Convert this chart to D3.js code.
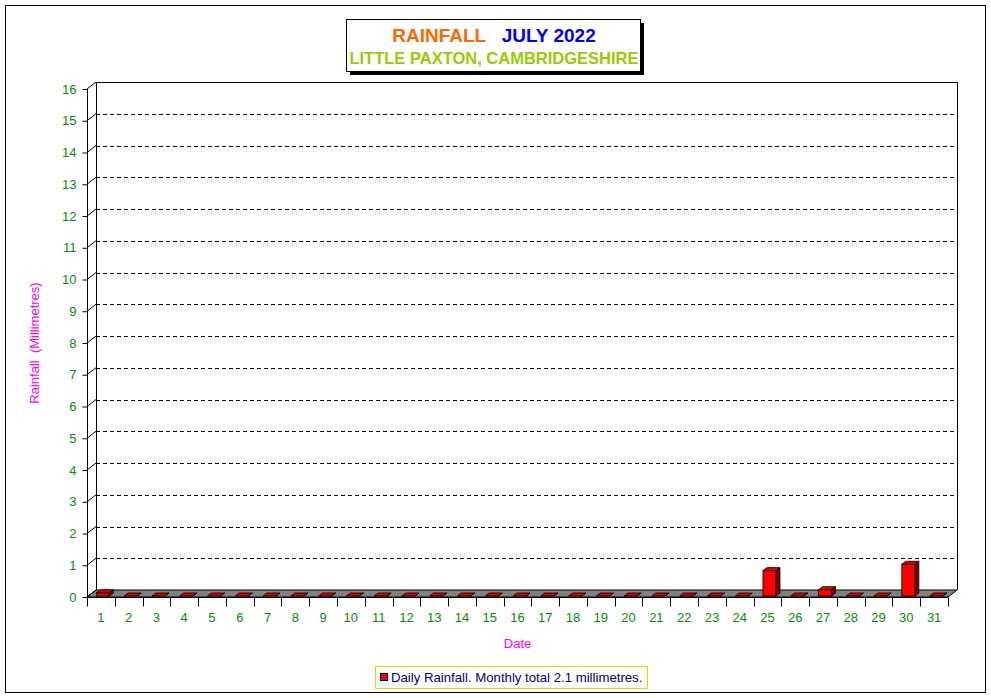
<!DOCTYPE html>
<html><head><meta charset="utf-8">
<script src="https://cdn.jsdelivr.net/npm/d3@7"></script>
<style>body{margin:0;background:#fff}svg{display:block;font-family:"Liberation Sans",Arial,sans-serif}</style>
</head><body><svg id="c" width="991" height="698"></svg>
<script>
const days = d3.range(1, 32).map(String);
const rainfall = [0.1,0,0,0,0,0,0,0,0,0,0,0,0,0,0,0,0,0,0,0,0,0,0,0,0.8,0,0.2,0,0,1.0,0];
const yTicks = d3.range(0, 17);
const titleMain = ["RAINFALL", "JULY 2022"];
const titleSub = "LITTLE PAXTON, CAMBRIDGESHIRE";
const legendText = "Daily Rainfall. Monthly total 2.1 millimetres.";

const svg = d3.select("#c");
svg.append("rect").attr("x",5.5).attr("y",5.5).attr("width",980).attr("height",687).attr("fill","#fff").attr("stroke","#000");

const DX = 9, DY = -7;
const x = d3.scaleBand().domain(days).range([87, 948]).padding(0);
const y = d3.scaleLinear().domain([0, 16]).range([597, 89]);

// floor
const x0 = 87, x1 = 948, y0 = y(0);
svg.append("path").attr("d", `M${x0},${y0}L${x1},${y0}L${x1+DX},${y0+DY}L${x0+DX},${y0+DY}Z`)
  .attr("fill","#808080").attr("stroke","#000");

// back wall lines
const g = svg.append("g");
g.append("line").attr("x1",x0+DX+0.5).attr("x2",x0+DX+0.5).attr("y1",y(16)+DY).attr("y2",y0+DY).attr("stroke","#000");
g.append("line").attr("x1",x1+DX+0.5).attr("x2",x1+DX+0.5).attr("y1",y(16)+DY).attr("y2",y0+DY).attr("stroke","#000");
g.append("line").attr("x1",x0+DX).attr("x2",x1+DX).attr("y1",y(16)+DY+0.5).attr("y2",y(16)+DY+0.5).attr("stroke","#000");
yTicks.filter(t => t > 0 && t < 16).forEach(t => {
  g.append("line").attr("x1",x0+DX).attr("x2",x1+DX).attr("y1",Math.round(y(t)+DY)+0.5).attr("y2",Math.round(y(t)+DY)+0.5)
    .attr("stroke","#000").attr("stroke-dasharray","4,3");
});
// diagonal connectors
yTicks.forEach(t => {
  g.append("line").attr("x1",x0).attr("y1",y(t)).attr("x2",x0+DX).attr("y2",y(t)+DY).attr("stroke","#000");
});

// y axis
const yAxis = d3.axisLeft(y).tickValues(yTicks).tickSize(5).tickPadding(6).tickFormat(d3.format("d"));
const ya = svg.append("g").attr("transform",`translate(${x0+0.5},0)`).call(yAxis);
ya.selectAll("text").attr("fill","#0a8a0a").attr("font-size",13).attr("font-family","Liberation Sans, Arial");
ya.selectAll("line,path").attr("stroke","#000");
ya.select(".domain").attr("d",`M-0,${y(16)}V${y0}`);

// x axis
const xa = svg.append("g").attr("transform",`translate(0,${y0+0.5})`);
xa.append("line").attr("x1",x0).attr("x2",x1).attr("stroke","#000");
days.forEach((d,i) => {
  const bx = Math.round(x(d)) + 0.5;
  xa.append("line").attr("x1",bx).attr("x2",bx).attr("y1",0).attr("y2",9).attr("stroke","#000");
  xa.append("text").attr("x",x(d)+x.bandwidth()/2).attr("y",24).attr("text-anchor","middle")
    .attr("font-size",13).attr("fill","#0a8a0a").text(d);
});
xa.append("line").attr("x1",x1+0.5).attr("x2",x1+0.5).attr("y1",0).attr("y2",9).attr("stroke","#000");

// bars
const BW = 13, BDX = 4, BDY = -3, OFF = 2;
const bars = svg.append("g");
days.forEach((d,i) => {
  const v = rainfall[i];
  const cx = x(d) + x.bandwidth()/2 + OFF;
  const l = cx - BW/2, r = cx + BW/2;
  const b = y0 - 1, t = y(v) - 1;
  bars.append("path").attr("d",`M${r},${b}L${r+BDX},${b+BDY}L${r+BDX},${t+BDY}L${r},${t}Z`).attr("fill","#800000").attr("stroke","#000").attr("stroke-width",0.8);
  if (v > 0) bars.append("rect").attr("x",l).attr("y",t).attr("width",BW).attr("height",b-t).attr("fill","#ff0000").attr("stroke","#000").attr("stroke-width",0.8);
  bars.append("path").attr("d",`M${l},${t}L${r},${t}L${r+BDX},${t+BDY}L${l+BDX},${t+BDY}Z`).attr("fill","#e00000").attr("stroke","#000").attr("stroke-width",0.8);
});

// axis titles
svg.append("text").attr("x",(x0+x1)/2).attr("y",648).attr("text-anchor","middle").attr("font-size",13).attr("fill","#ff00ff").text("Date");
svg.append("text").attr("transform",`translate(39,${(y(0)+y(16))/2}) rotate(-90)`).attr("text-anchor","middle")
  .attr("font-size",13).attr("fill","#ff00ff").attr("xml:space","preserve").style("white-space","pre").text("Rainfall  (Millimetres)");

// title box
svg.append("rect").attr("x",350).attr("y",23).attr("width",294).attr("height",52).attr("fill","#000");
svg.append("rect").attr("x",346.5).attr("y",19.5).attr("width",294).attr("height",52).attr("fill","#fff").attr("stroke","#000");
const tt = svg.append("text").attr("x",494).attr("y",42).attr("text-anchor","middle").attr("font-size",19).attr("font-weight","bold").attr("xml:space","preserve").style("white-space","pre");
tt.append("tspan").attr("fill","#ff6600").text(titleMain[0]);
tt.append("tspan").attr("fill","#0000ff").text("   " + titleMain[1]);
svg.append("text").attr("x",494).attr("y",64).attr("text-anchor","middle").attr("font-size",16.5).attr("font-weight","bold").attr("fill","#99cc00").text(titleSub);

// legend
svg.append("rect").attr("x",375.5).attr("y",666.5).attr("width",272).attr("height",22).attr("fill","#fff").attr("stroke","#ffcc00");
svg.append("rect").attr("x",380.5).attr("y",673.5).attr("width",7).attr("height",7).attr("fill","#ff0000").attr("stroke","#000");
svg.append("text").attr("x",391).attr("y",682).attr("font-size",13.2).attr("fill","#000080").text(legendText);
</script></body></html>
